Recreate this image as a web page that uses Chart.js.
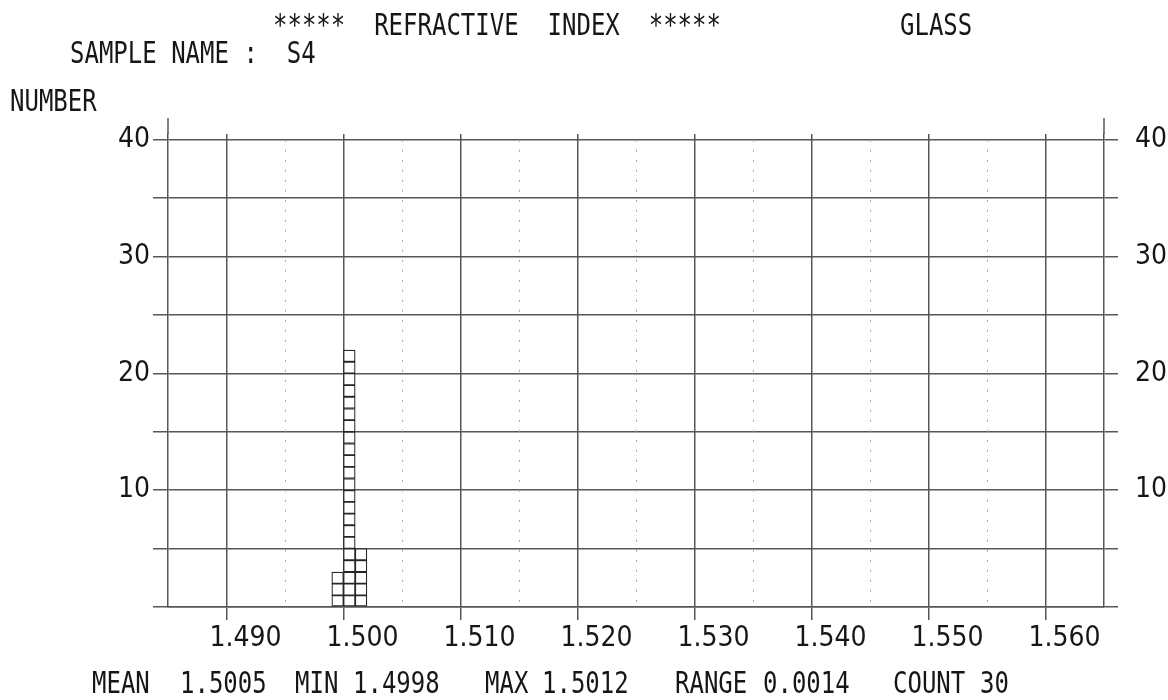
<!DOCTYPE html>
<html>
<head>
<meta charset="utf-8">
<script src="https://cdn.jsdelivr.net/npm/chart.js@4.4.1/dist/chart.umd.min.js"></script>
<style>
  body { margin: 0; background: #fff; }
  #wrap { position: relative; width: 1168px; height: 700px; }
  #wrap canvas { position: absolute; left: 0; top: 0; }
  .t {
    position: absolute;
    font-family: 'DejaVu Sans Mono', 'Liberation Mono', monospace;
    font-size: 30px;
    line-height: 30px;
    color: #161616;
    white-space: pre;
    transform: scaleX(0.8);
    transform-origin: 0 0;
  }
</style>
</head>
<body>
<div id="wrap">
  <canvas id="chart" width="1168" height="700"></canvas>

  <div class="t" style="left:273px;top:10px">*****  REFRACTIVE  INDEX  *****</div>
  <div class="t" style="left:900px;top:10px">GLASS</div>
  <div class="t" style="left:70px;top:38px">SAMPLE NAME :  S4</div>
  <div class="t" style="left:10px;top:86px">NUMBER</div>

  <div class="t" style="left:92px;top:668px">MEAN</div>
  <div class="t" style="left:180px;top:668px">1.5005</div>
  <div class="t" style="left:295px;top:668px">MIN</div>
  <div class="t" style="left:353px;top:668px">1.4998</div>
  <div class="t" style="left:485px;top:668px">MAX</div>
  <div class="t" style="left:542px;top:668px">1.5012</div>
  <div class="t" style="left:675px;top:668px">RANGE</div>
  <div class="t" style="left:763px;top:668px">0.0014</div>
  <div class="t" style="left:893px;top:668px">COUNT</div>
  <div class="t" style="left:980px;top:668px">30</div>
</div>

<script>
// ---- data ----
const binCenters = [1.4995, 1.5005, 1.5015];   // refractive index bins (0.001 wide)
const binCounts = [3, 22, 5];                   // number of fragments per bin

const xTickValues = [1.49, 1.50, 1.51, 1.52, 1.53, 1.54, 1.55, 1.56];
const xTickLabels = ['1.490', '1.500', '1.510', '1.520', '1.530', '1.540', '1.550', '1.560'];
const xMinorValues = [1.495, 1.505, 1.515, 1.525, 1.535, 1.545, 1.555];

const yTickValues = [0, 5, 10, 15, 20, 25, 30, 35, 40];
const yTickLabels = ['', '', '10', '', '20', '', '30', '', '40'];

// ---- styling ----
const gridColor = '#575757';
const inkColor = '#161616';
const tickFont = { family: "'Liberation Sans Narrow', 'DejaVu Sans Condensed', 'Liberation Sans', sans-serif", size: 28 };

// one stacked dataset per "row" of squares, so every unit gets its own box
const levels = Math.max(...binCounts);
const datasets = [];
for (let k = 1; k <= levels; k++) {
  datasets.push({
    data: binCenters.map((x, i) => ({ x: x, y: binCounts[i] >= k ? 1 : null })),
    backgroundColor: '#fff',
    borderColor: '#262626',
    borderWidth: 1.25,
    borderSkipped: false,
    barPercentage: 1,
    categoryPercentage: 1
  });
}

// dotted half-step lines + the frame sticking out above the top grid line
const extras = {
  id: 'extras',
  beforeDatasetsDraw(chart) {
    const { ctx, scales: { x, y } } = chart;
    ctx.save();
    ctx.strokeStyle = '#a8a8a8';
    ctx.lineWidth = 1;
    ctx.setLineDash([2, 8]);
    xMinorValues.forEach(v => {
      const px = Math.round(x.getPixelForValue(v)) + 0.5;
      ctx.beginPath();
      ctx.moveTo(px, y.getPixelForValue(40));
      ctx.lineTo(px, y.bottom);
      ctx.stroke();
    });
    ctx.setLineDash([]);
    ctx.strokeStyle = gridColor;
    ctx.lineWidth = 1.5;
    [x.left, x.right].forEach(px => {
      ctx.beginPath();
      ctx.moveTo(px, y.top - 16);
      ctx.lineTo(px, y.top);
      ctx.stroke();
    });
    ctx.restore();
  }
};

new Chart(document.getElementById('chart'), {
  type: 'bar',
  data: { datasets },
  plugins: [extras],
  options: {
    responsive: false,
    devicePixelRatio: 1,
    animation: false,
    layout: { padding: { top: 134, left: 0, right: 0, bottom: 0 } },
    plugins: { legend: { display: false }, tooltip: { enabled: false } },
    scales: {
      x: {
        type: 'linear',
        min: 1.485,
        max: 1.565,
        offset: false,
        stacked: true,
        afterBuildTicks: s => { s.ticks = xTickValues.map(v => ({ value: v })); },
        afterFit: s => { s.height = 93; },
        grid: { offset: false, color: gridColor, lineWidth: 1.5, tickLength: 13, drawTicks: true },
        border: { display: true, color: gridColor, width: 1.5 },
        ticks: {
          callback: (v, i) => xTickLabels[i],
          font: tickFont,
          color: inkColor,
          labelOffset: 19,
          padding: 2,
          maxRotation: 0
        }
      },
      y: {
        position: 'left',
        min: 0,
        max: 40.5,
        stacked: true,
        afterBuildTicks: s => { s.ticks = yTickValues.map(v => ({ value: v })); },
        afterFit: s => { s.width = 168; },
        grid: { color: gridColor, lineWidth: 1.5, tickLength: 15 },
        border: { display: true, color: gridColor, width: 1.5 },
        ticks: { callback: (v, i) => yTickLabels[i], font: tickFont, color: inkColor, padding: 3 }
      },
      y2: {
        position: 'right',
        min: 0,
        max: 40.5,
        afterBuildTicks: s => { s.ticks = yTickValues.map(v => ({ value: v })); },
        afterFit: s => { s.width = 64; },
        grid: { color: gridColor, lineWidth: 1.5, tickLength: 14, drawOnChartArea: false },
        border: { display: true, color: gridColor, width: 1.5 },
        ticks: { callback: (v, i) => yTickLabels[i], font: tickFont, color: inkColor, padding: 17 }
      }
    }
  }
});
</script>
</body>
</html>
